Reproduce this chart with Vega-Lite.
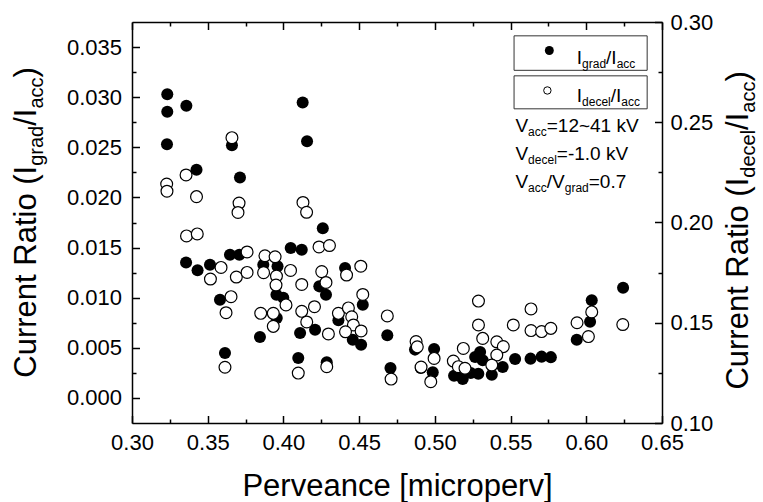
{
  "$schema": "https://vega.github.io/schema/vega-lite/v6.json",
  "width": 530,
  "height": 401,
  "autosize": {"type": "none"},
  "padding": {"left": 132, "top": 22, "right": 101, "bottom": 79},
  "background": "white",
  "config": {
    "font": "Liberation Sans",
    "view": {"stroke": null},
    "axis": {
      "grid": false,
      "domainColor": "black",
      "domainWidth": 1.5,
      "tickColor": "black",
      "tickWidth": 1.5,
      "labelColor": "black",
      "labelFont": "Liberation Sans",
      "labelFontSize": 22,
      "titleFont": "Liberation Sans",
      "titleFontSize": 31,
      "titleFontWeight": "normal",
      "titleColor": "black"
    }
  },
  "datasets": {
    "grad": [
      {"perveance": 0.3233, "ratio": 0.03029}, {"perveance": 0.3233, "ratio": 0.02854}, {"perveance": 0.3359, "ratio": 0.02914},
      {"perveance": 0.3231, "ratio": 0.0253}, {"perveance": 0.3426, "ratio": 0.02276}, {"perveance": 0.366, "ratio": 0.0252},
      {"perveance": 0.3713, "ratio": 0.02199}, {"perveance": 0.4127, "ratio": 0.02947}, {"perveance": 0.4156, "ratio": 0.0256},
      {"perveance": 0.426, "ratio": 0.01693}, {"perveance": 0.4048, "ratio": 0.01496}, {"perveance": 0.4121, "ratio": 0.01479},
      {"perveance": 0.3357, "ratio": 0.01352}, {"perveance": 0.3433, "ratio": 0.01274}, {"perveance": 0.3515, "ratio": 0.01329},
      {"perveance": 0.3647, "ratio": 0.01429}, {"perveance": 0.3709, "ratio": 0.01429}, {"perveance": 0.3867, "ratio": 0.01329},
      {"perveance": 0.3961, "ratio": 0.01314}, {"perveance": 0.4407, "ratio": 0.01296}, {"perveance": 0.4237, "ratio": 0.01113},
      {"perveance": 0.4281, "ratio": 0.0103}, {"perveance": 0.3954, "ratio": 0.0103}, {"perveance": 0.3999, "ratio": 0.01},
      {"perveance": 0.3581, "ratio": 0.0098}, {"perveance": 0.4524, "ratio": 0.0093}, {"perveance": 0.3956, "ratio": 0.00798},
      {"perveance": 0.4363, "ratio": 0.00776}, {"perveance": 0.3845, "ratio": 0.00608}, {"perveance": 0.411, "ratio": 0.00648},
      {"perveance": 0.4209, "ratio": 0.00681}, {"perveance": 0.4458, "ratio": 0.00581}, {"perveance": 0.4513, "ratio": 0.00531},
      {"perveance": 0.4686, "ratio": 0.00626}, {"perveance": 0.3614, "ratio": 0.00449}, {"perveance": 0.4098, "ratio": 0.00399},
      {"perveance": 0.4286, "ratio": 0.00357}, {"perveance": 0.4707, "ratio": 0.00299}, {"perveance": 0.4869, "ratio": 0.00482},
      {"perveance": 0.4995, "ratio": 0.00489}, {"perveance": 0.4907, "ratio": 0.00299}, {"perveance": 0.4986, "ratio": 0.00255},
      {"perveance": 0.5127, "ratio": 0.00222}, {"perveance": 0.5184, "ratio": 0.00189}, {"perveance": 0.5155, "ratio": 0.00249},
      {"perveance": 0.5237, "ratio": 0.00249}, {"perveance": 0.5299, "ratio": 0.00457}, {"perveance": 0.5266, "ratio": 0.00409},
      {"perveance": 0.5316, "ratio": 0.00375}, {"perveance": 0.5287, "ratio": 0.00242}, {"perveance": 0.5376, "ratio": 0.00232},
      {"perveance": 0.5448, "ratio": 0.00309}, {"perveance": 0.553, "ratio": 0.00389}, {"perveance": 0.5632, "ratio": 0.00392},
      {"perveance": 0.5705, "ratio": 0.00412}, {"perveance": 0.5766, "ratio": 0.00407}, {"perveance": 0.5937, "ratio": 0.00581},
      {"perveance": 0.6036, "ratio": 0.00975}, {"perveance": 0.6025, "ratio": 0.00761}, {"perveance": 0.6243, "ratio": 0.011}
    ],
    "decel": [
      {"perveance": 0.366, "ratio": 0.2423}, {"perveance": 0.3357, "ratio": 0.2237}, {"perveance": 0.3229, "ratio": 0.2192},
      {"perveance": 0.3231, "ratio": 0.2156}, {"perveance": 0.3426, "ratio": 0.2129}, {"perveance": 0.3707, "ratio": 0.2097},
      {"perveance": 0.37, "ratio": 0.205}, {"perveance": 0.336, "ratio": 0.1933}, {"perveance": 0.3431, "ratio": 0.1943},
      {"perveance": 0.4129, "ratio": 0.21}, {"perveance": 0.4153, "ratio": 0.2051}, {"perveance": 0.4235, "ratio": 0.1878},
      {"perveance": 0.4304, "ratio": 0.1885}, {"perveance": 0.3588, "ratio": 0.1776}, {"perveance": 0.3518, "ratio": 0.1718},
      {"perveance": 0.376, "ratio": 0.1853}, {"perveance": 0.3689, "ratio": 0.1728}, {"perveance": 0.376, "ratio": 0.1751},
      {"perveance": 0.3878, "ratio": 0.1834}, {"perveance": 0.3945, "ratio": 0.1829}, {"perveance": 0.3869, "ratio": 0.175},
      {"perveance": 0.3954, "ratio": 0.1733}, {"perveance": 0.4047, "ratio": 0.1761}, {"perveance": 0.3951, "ratio": 0.1688},
      {"perveance": 0.4121, "ratio": 0.1691}, {"perveance": 0.4253, "ratio": 0.1755}, {"perveance": 0.4281, "ratio": 0.1701},
      {"perveance": 0.4417, "ratio": 0.1738}, {"perveance": 0.4511, "ratio": 0.1782}, {"perveance": 0.3654, "ratio": 0.163},
      {"perveance": 0.3621, "ratio": 0.155}, {"perveance": 0.4017, "ratio": 0.1589}, {"perveance": 0.4121, "ratio": 0.1557},
      {"perveance": 0.4205, "ratio": 0.158}, {"perveance": 0.3933, "ratio": 0.1547}, {"perveance": 0.385, "ratio": 0.1547},
      {"perveance": 0.3933, "ratio": 0.1482}, {"perveance": 0.4154, "ratio": 0.1504}, {"perveance": 0.4297, "ratio": 0.1444},
      {"perveance": 0.4363, "ratio": 0.1547}, {"perveance": 0.4429, "ratio": 0.1574}, {"perveance": 0.4451, "ratio": 0.153},
      {"perveance": 0.4462, "ratio": 0.1489}, {"perveance": 0.441, "ratio": 0.1455}, {"perveance": 0.4513, "ratio": 0.1459},
      {"perveance": 0.4524, "ratio": 0.1641}, {"perveance": 0.4686, "ratio": 0.1534}, {"perveance": 0.3614, "ratio": 0.1278},
      {"perveance": 0.4098, "ratio": 0.1249}, {"perveance": 0.4286, "ratio": 0.1281}, {"perveance": 0.4711, "ratio": 0.1219},
      {"perveance": 0.4876, "ratio": 0.1406}, {"perveance": 0.4884, "ratio": 0.138}, {"perveance": 0.4995, "ratio": 0.1322},
      {"perveance": 0.4909, "ratio": 0.1279}, {"perveance": 0.4973, "ratio": 0.1206}, {"perveance": 0.5122, "ratio": 0.1309},
      {"perveance": 0.5155, "ratio": 0.1281}, {"perveance": 0.5188, "ratio": 0.1372}, {"perveance": 0.5199, "ratio": 0.1273},
      {"perveance": 0.5288, "ratio": 0.1608}, {"perveance": 0.5288, "ratio": 0.1489}, {"perveance": 0.5316, "ratio": 0.1422},
      {"perveance": 0.5409, "ratio": 0.1405}, {"perveance": 0.5452, "ratio": 0.1381}, {"perveance": 0.5409, "ratio": 0.1339},
      {"perveance": 0.5376, "ratio": 0.1289}, {"perveance": 0.5518, "ratio": 0.1489}, {"perveance": 0.5635, "ratio": 0.1569},
      {"perveance": 0.5635, "ratio": 0.1461}, {"perveance": 0.5705, "ratio": 0.1456}, {"perveance": 0.5766, "ratio": 0.1472},
      {"perveance": 0.5939, "ratio": 0.15}, {"perveance": 0.6014, "ratio": 0.1431}, {"perveance": 0.6036, "ratio": 0.1554},
      {"perveance": 0.6241, "ratio": 0.1491}
    ]
  },
  "resolve": {
    "scale": {"x": "independent", "y": "independent"},
    "axis": {"x": "independent", "y": "independent"}
  },
  "layer": [
    {
      "data": {"values": [{}]},
      "mark": {"type": "rect", "fill": "white", "stroke": "#333333", "strokeWidth": 1},
      "encoding": {
        "x": {"datum": 0.5523, "type": "quantitative", "scale": {"domain": [0.3, 0.65], "nice": false, "zero": false}, "axis": null},
        "x2": {"datum": 0.6402},
        "y": {"datum": 0.03612, "type": "quantitative", "scale": {"domain": [-0.0025, 0.0375], "nice": false, "zero": false}, "axis": null},
        "y2": {"datum": 0.03268}
      }
    },
    {
      "data": {"values": [{}]},
      "mark": {"type": "rect", "fill": "white", "stroke": "#333333", "strokeWidth": 1},
      "encoding": {
        "x": {"datum": 0.5523, "type": "quantitative", "scale": {"domain": [0.3, 0.65], "nice": false, "zero": false}, "axis": null},
        "x2": {"datum": 0.6402},
        "y": {"datum": 0.03213, "type": "quantitative", "scale": {"domain": [-0.0025, 0.0375], "nice": false, "zero": false}, "axis": null},
        "y2": {"datum": 0.02884}
      }
    },
    {
      "data": {"name": "grad"},
      "mark": {"type": "circle", "color": "black", "size": 145, "opacity": 1},
      "encoding": {
        "x": {
          "field": "perveance", "type": "quantitative",
          "scale": {"domain": [0.3, 0.65], "nice": false, "zero": false},
          "axis": {
            "orient": "bottom",
            "values": [0.3, 0.325, 0.35, 0.375, 0.4, 0.425, 0.45, 0.475, 0.5, 0.525, 0.55, 0.575, 0.6, 0.625, 0.65],
            "tickSize": {"condition": {"test": "abs(datum.value*20-round(datum.value*20))<0.01", "value": -7.5}, "value": -4},
            "labelExpr": "abs(datum.value*20-round(datum.value*20))<0.01 ? format(datum.value,'.2f') : ''",
            "labelPadding": 17,
            "labelFlush": false,
            "labelOverlap": false,
            "title": "Perveance [microperv]",
            "titlePadding": 14
          }
        },
        "y": {
          "field": "ratio", "type": "quantitative",
          "scale": {"domain": [-0.0025, 0.0375], "nice": false, "zero": false},
          "axis": {
            "orient": "left",
            "values": [0, 0.0025, 0.005, 0.0075, 0.01, 0.0125, 0.015, 0.0175, 0.02, 0.0225, 0.025, 0.0275, 0.03, 0.0325, 0.035],
            "tickSize": {"condition": {"test": "abs(datum.value*200-round(datum.value*200))<0.01", "value": -7.5}, "value": -4},
            "labelExpr": "abs(datum.value*200-round(datum.value*200))<0.01 ? format(datum.value,'.3f') : ''",
            "labelPadding": 18,
            "labelFlush": false,
            "labelOverlap": false,
            "title": null
          }
        }
      }
    },
    {
      "data": {"name": "decel"},
      "mark": {"type": "circle", "fill": "white", "stroke": "black", "strokeWidth": 1.2, "size": 140, "opacity": 1},
      "encoding": {
        "x": {
          "field": "perveance", "type": "quantitative",
          "scale": {"domain": [0.3, 0.65], "nice": false, "zero": false},
          "axis": {
            "orient": "top",
            "values": [0.3, 0.325, 0.35, 0.375, 0.4, 0.425, 0.45, 0.475, 0.5, 0.525, 0.55, 0.575, 0.6, 0.625, 0.65],
            "tickSize": {"condition": {"test": "abs(datum.value*20-round(datum.value*20))<0.01", "value": -7.5}, "value": -4},
            "labels": false,
            "title": null
          }
        },
        "y": {
          "field": "ratio", "type": "quantitative",
          "scale": {"domain": [0.1, 0.3], "nice": false, "zero": false},
          "axis": {
            "orient": "right",
            "values": [0.1, 0.125, 0.15, 0.175, 0.2, 0.225, 0.25, 0.275, 0.3],
            "tickSize": {"condition": {"test": "abs(datum.value*20-round(datum.value*20))<0.01", "value": -7.5}, "value": -4},
            "labelExpr": "abs(datum.value*20-round(datum.value*20))<0.01 ? format(datum.value,'.2f') : ''",
            "labelPadding": 15.5,
            "labelFlush": false,
            "labelOverlap": false,
            "title": null
          }
        }
      }
    },
    {
      "data": {"values": [{}]},
      "mark": {"type": "circle", "color": "black", "size": 80, "opacity": 1},
      "encoding": {
        "x": {"datum": 0.5756, "type": "quantitative", "scale": {"domain": [0.3, 0.65], "nice": false, "zero": false}, "axis": null},
        "y": {"datum": 0.03466, "type": "quantitative", "scale": {"domain": [-0.0025, 0.0375], "nice": false, "zero": false}, "axis": null}
      }
    },
    {
      "data": {"values": [{}]},
      "mark": {"type": "circle", "fill": "white", "stroke": "black", "strokeWidth": 1, "size": 55, "opacity": 1},
      "encoding": {
        "x": {"datum": 0.5743, "type": "quantitative", "scale": {"domain": [0.3, 0.65], "nice": false, "zero": false}, "axis": null},
        "y": {"datum": 0.03067, "type": "quantitative", "scale": {"domain": [-0.0025, 0.0375], "nice": false, "zero": false}, "axis": null}
      }
    },
    {
      "data": {"values": [{}]},
      "layer": [
        {"mark": {"type": "text", "text": "I", "align": "left", "baseline": "alphabetic", "fontSize": 19, "color": "black"}},
        {"mark": {"type": "text", "text": "grad", "align": "left", "baseline": "alphabetic", "dx": 5.3, "dy": 4, "fontSize": 12, "color": "black"}},
        {"mark": {"type": "text", "text": "/I", "align": "left", "baseline": "alphabetic", "dx": 29.3, "fontSize": 19, "color": "black"}},
        {"mark": {"type": "text", "text": "acc", "align": "left", "baseline": "alphabetic", "dx": 39.9, "dy": 4, "fontSize": 12, "color": "black"}}
      ],
      "encoding": {
        "x": {"datum": 0.5937, "type": "quantitative", "scale": {"domain": [0.3, 0.65], "nice": false, "zero": false}, "axis": null},
        "y": {"datum": 0.03328, "type": "quantitative", "scale": {"domain": [-0.0025, 0.0375], "nice": false, "zero": false}, "axis": null}
      }
    },
    {
      "data": {"values": [{}]},
      "layer": [
        {"mark": {"type": "text", "text": "I", "align": "left", "baseline": "alphabetic", "fontSize": 19, "color": "black"}},
        {"mark": {"type": "text", "text": "decel", "align": "left", "baseline": "alphabetic", "dx": 5.3, "dy": 4, "fontSize": 12, "color": "black"}},
        {"mark": {"type": "text", "text": "/I", "align": "left", "baseline": "alphabetic", "dx": 34.0, "fontSize": 19, "color": "black"}},
        {"mark": {"type": "text", "text": "acc", "align": "left", "baseline": "alphabetic", "dx": 44.5, "dy": 4, "fontSize": 12, "color": "black"}}
      ],
      "encoding": {
        "x": {"datum": 0.5937, "type": "quantitative", "scale": {"domain": [0.3, 0.65], "nice": false, "zero": false}, "axis": null},
        "y": {"datum": 0.02954, "type": "quantitative", "scale": {"domain": [-0.0025, 0.0375], "nice": false, "zero": false}, "axis": null}
      }
    },
    {
      "data": {"values": [{}]},
      "layer": [
        {"mark": {"type": "text", "text": "V", "align": "left", "baseline": "alphabetic", "fontSize": 19, "color": "black"}},
        {"mark": {"type": "text", "text": "acc", "align": "left", "baseline": "alphabetic", "dx": 12.7, "dy": 4, "fontSize": 12, "color": "black"}},
        {"mark": {"type": "text", "text": "=12~41 kV", "align": "left", "baseline": "alphabetic", "dx": 31.3, "fontSize": 19, "color": "black"}}
      ],
      "encoding": {
        "x": {"datum": 0.5532, "type": "quantitative", "scale": {"domain": [0.3, 0.65], "nice": false, "zero": false}, "axis": null},
        "y": {"datum": 0.02655, "type": "quantitative", "scale": {"domain": [-0.0025, 0.0375], "nice": false, "zero": false}, "axis": null}
      }
    },
    {
      "data": {"values": [{}]},
      "layer": [
        {"mark": {"type": "text", "text": "V", "align": "left", "baseline": "alphabetic", "fontSize": 19, "color": "black"}},
        {"mark": {"type": "text", "text": "decel", "align": "left", "baseline": "alphabetic", "dx": 12.7, "dy": 4, "fontSize": 12, "color": "black"}},
        {"mark": {"type": "text", "text": "=-1.0 kV", "align": "left", "baseline": "alphabetic", "dx": 41.4, "fontSize": 19, "color": "black"}}
      ],
      "encoding": {
        "x": {"datum": 0.5532, "type": "quantitative", "scale": {"domain": [0.3, 0.65], "nice": false, "zero": false}, "axis": null},
        "y": {"datum": 0.02376, "type": "quantitative", "scale": {"domain": [-0.0025, 0.0375], "nice": false, "zero": false}, "axis": null}
      }
    },
    {
      "data": {"values": [{}]},
      "layer": [
        {"mark": {"type": "text", "text": "V", "align": "left", "baseline": "alphabetic", "fontSize": 19, "color": "black"}},
        {"mark": {"type": "text", "text": "acc", "align": "left", "baseline": "alphabetic", "dx": 12.7, "dy": 4, "fontSize": 12, "color": "black"}},
        {"mark": {"type": "text", "text": "/V", "align": "left", "baseline": "alphabetic", "dx": 31.3, "fontSize": 19, "color": "black"}},
        {"mark": {"type": "text", "text": "grad", "align": "left", "baseline": "alphabetic", "dx": 49.3, "dy": 4, "fontSize": 12, "color": "black"}},
        {"mark": {"type": "text", "text": "=0.7", "align": "left", "baseline": "alphabetic", "dx": 73.3, "fontSize": 19, "color": "black"}}
      ],
      "encoding": {
        "x": {"datum": 0.5532, "type": "quantitative", "scale": {"domain": [0.3, 0.65], "nice": false, "zero": false}, "axis": null},
        "y": {"datum": 0.02097, "type": "quantitative", "scale": {"domain": [-0.0025, 0.0375], "nice": false, "zero": false}, "axis": null}
      }
    },
    {
      "data": {"values": [{}]},
      "layer": [
        {"mark": {"type": "text", "text": "Current Ratio (I", "align": "left", "baseline": "alphabetic", "angle": 270, "fontSize": 31, "color": "black"}},
        {"mark": {"type": "text", "text": "grad", "align": "left", "baseline": "alphabetic", "angle": 270, "dx": 211.9, "dy": 7, "fontSize": 20, "color": "black"}},
        {"mark": {"type": "text", "text": "/I", "align": "left", "baseline": "alphabetic", "angle": 270, "dx": 251.9, "fontSize": 31, "color": "black"}},
        {"mark": {"type": "text", "text": "acc", "align": "left", "baseline": "alphabetic", "angle": 270, "dx": 269.1, "dy": 7, "fontSize": 20, "color": "black"}},
        {"mark": {"type": "text", "text": ")", "align": "left", "baseline": "alphabetic", "angle": 270, "dx": 300.2, "fontSize": 31, "color": "black"}}
      ],
      "encoding": {
        "x": {"datum": 0.23692, "type": "quantitative", "scale": {"domain": [0.3, 0.65], "nice": false, "zero": false}, "axis": null},
        "y": {"datum": 0.00202, "type": "quantitative", "scale": {"domain": [-0.0025, 0.0375], "nice": false, "zero": false}, "axis": null}
      }
    },
    {
      "data": {"values": [{}]},
      "layer": [
        {"mark": {"type": "text", "text": "Current Ratio (I", "align": "left", "baseline": "alphabetic", "angle": 270, "fontSize": 31, "color": "black"}},
        {"mark": {"type": "text", "text": "decel", "align": "left", "baseline": "alphabetic", "angle": 270, "dx": 211.9, "dy": 7, "fontSize": 20, "color": "black"}},
        {"mark": {"type": "text", "text": "/I", "align": "left", "baseline": "alphabetic", "angle": 270, "dx": 259.7, "fontSize": 31, "color": "black"}},
        {"mark": {"type": "text", "text": "acc", "align": "left", "baseline": "alphabetic", "angle": 270, "dx": 276.9, "dy": 7, "fontSize": 20, "color": "black"}},
        {"mark": {"type": "text", "text": ")", "align": "left", "baseline": "alphabetic", "angle": 270, "dx": 308.0, "fontSize": 31, "color": "black"}}
      ],
      "encoding": {
        "x": {"datum": 0.70687, "type": "quantitative", "scale": {"domain": [0.3, 0.65], "nice": false, "zero": false}, "axis": null},
        "y": {"datum": 0.00083, "type": "quantitative", "scale": {"domain": [-0.0025, 0.0375], "nice": false, "zero": false}, "axis": null}
      }
    }
  ]
}
